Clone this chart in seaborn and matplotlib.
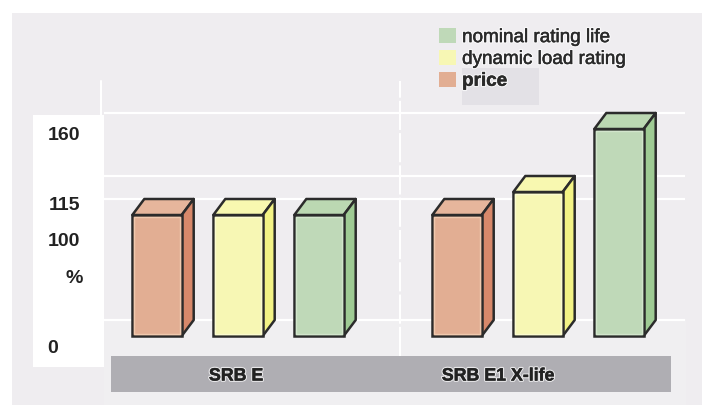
import matplotlib
matplotlib.use("Agg")
import matplotlib.pyplot as plt
import matplotlib.patheffects as pe
from matplotlib.patches import Patch, Polygon, Rectangle
from matplotlib.transforms import IdentityTransform
import numpy as np
import pandas as pd
import seaborn as sns

# chart values
groups = ["SRB E", "SRB E1 X-life"]
metrics = ["price", "dynamic load rating", "nominal rating life"]
price = [100, 100]
dynamic_load = [100, 115]
nominal_life = [100, 160]
y_labels = ["160", "115", "100", "%", "0"]
grid_values = [0, 100, 115, 160]

W, H = 702, 406
DARK = "#2b2b2b"
DEPTH_X, DEPTH_Y = 12, 16

front = {"price": "#E2AE93", "dynamic load rating": "#F7F7B4", "nominal rating life": "#BFD9B8"}
side = {"price": "#D7886A", "dynamic load rating": "#F3F385", "nominal rating life": "#9FCB94"}
top = {"price": "#E6B69C", "dynamic load rating": "#F8F8B0", "nominal rating life": "#BBD8B2"}
inner = {"price": "#F0C9AE", "dynamic load rating": "#FBFBCF", "nominal rating life": "#D2E5CC"}

df = pd.DataFrame({
    "group": groups * 3,
    "metric": [m for m in metrics for _ in groups],
    "value": price + dynamic_load + nominal_life,
})

sns.set_theme(style="white")
plt.rcParams["font.family"] = ["Liberation Sans", "DejaVu Sans"]

fig = plt.figure(figsize=(W / 100, H / 100), dpi=100, facecolor="white")
ax = fig.add_axes([0, 0, 1, 1], zorder=1)
ax.patch.set_visible(False)


def px_rect(x0, y0, x1, y1, color, zorder=0):
    # rectangle given in picture pixels, y going down
    fig.patches.append(Rectangle((x0 / W, 1 - y1 / H), (x1 - x0) / W, (y1 - y0) / H,
                                 transform=fig.transFigure, facecolor=color,
                                 edgecolor="none", zorder=zorder))


def px_text(x, y, s, **kw):
    return fig.text(x / W, 1 - y / H, s, va="center", color="#222222", **kw)


px_rect(12, 14, W + 5, H + 5, "#EFEDF0")
px_rect(104, 320, 686, H + 5, "#F0EFF1")
px_rect(33, 116, 104, 368, "white")
px_rect(462, 69, 539, 106, "#E3E1E6")
px_rect(111, 357, 671, 393, "#AFAEB3")

sns.barplot(data=df, x="group", y="value", hue="metric", hue_order=metrics,
            palette=front, saturation=1, width=0.81, gap=0.39, legend=False,
            edgecolor=DARK, linewidth=1.8, zorder=3, ax=ax)

# the drawing is a sketch: its value axis is not linear, the picture's 115 and 160 sit higher
scale_v = [-100, 0, 100, 115, 160, 300]
scale_h = [-121, 0, 121, 144, 207, 403]
forward = lambda v: np.interp(v, scale_v, scale_h)
inverse = lambda h: np.interp(h, scale_h, scale_v)
ax.set_yscale("function", functions=(forward, inverse))
ax.set_ylim(inverse(-69), inverse(337))
ax.set_xlim(-238 / 300, (W - 238) / 300)
ax.axis("off")

to_px = ax.transData.transform
fig.canvas.draw()

# back wall grid, shifted by the depth of the bars
grid_x0, grid_x1 = 104, 685
for v in grid_values:
    _, yd = to_px((0, v))
    ax.plot([grid_x0, grid_x1], [yd + DEPTH_Y, yd + DEPTH_Y], transform=IdentityTransform(),
            color="white", lw=1.6, zorder=1, solid_capstyle="butt")
ax.plot([101, 101], [H - 116, H - 82], transform=IdentityTransform(), color="white", lw=1.5, zorder=1)
ax.plot([400, 400], [H - 357, H - 82], transform=IdentityTransform(), color="white", lw=1.5,
        ls=(0, (14, 1.5)), zorder=1)

# side and top faces of the bars
for metric, bars in zip(metrics, ax.containers):
    for bar in bars:
        (x0, y0), (x1, y1) = to_px(bar.get_bbox().get_points())
        off = (DEPTH_X, DEPTH_Y)
        top_face = [(x0, y1), (x1, y1), (x1 + off[0], y1 + off[1]), (x0 + off[0], y1 + off[1])]
        side_face = [(x1, y0), (x1 + off[0], y0 + off[1]), (x1 + off[0], y1 + off[1]), (x1, y1)]
        for pts, color in ((top_face, top[metric]), (side_face, side[metric])):
            ax.add_patch(Polygon(pts, closed=True, transform=IdentityTransform(), facecolor=color,
                                 edgecolor=DARK, linewidth=1.8, joinstyle="round", zorder=2.5,
                                 clip_on=False))
        ax.add_patch(Rectangle((x0 + 2, y0 + 2), x1 - x0 - 4, y1 - y0 - 4, transform=IdentityTransform(),
                               fill=False, edgecolor=inner[metric], linewidth=1, zorder=3.5))

# labels on the white strip
label_x = {"160": 64, "115": 64, "100": 64, "%": 74, "0": 53}
label_y = {"160": 136, "115": 206, "100": 242, "%": 279, "0": 349}
for s in y_labels:
    px_text(label_x[s], label_y[s], s, ha="center", fontsize=14, fontweight="bold")

halo = [pe.Stroke(linewidth=2, foreground="white", alpha=0.7),
        pe.Stroke(linewidth=0.35, foreground="#2a2a2a"), pe.Normal()]
for s, x in zip(groups, (236, 498)):
    px_text(x, 377, s, ha="center", fontsize=12.8, fontweight="bold", path_effects=halo)

# legend, top entry first like the picture
handles = [Patch(facecolor=front[m], edgecolor="none", label=m) for m in reversed(metrics)]
leg = ax.legend(handles=handles, loc="upper left", frameon=False,
                bbox_to_anchor=(439 / W, 1 - 29 / H), bbox_transform=fig.transFigure,
                fontsize=13.6, handlelength=0.9, handleheight=0.85, handletextpad=0.32,
                labelspacing=0.2, borderaxespad=0, borderpad=0)
for t in leg.get_texts():
    t.set_color("#2a2a2a")
    t.set_path_effects(halo)
leg.get_texts()[-1].set_fontweight("bold")

fig.savefig("out.png", dpi=100, facecolor=fig.get_facecolor())
